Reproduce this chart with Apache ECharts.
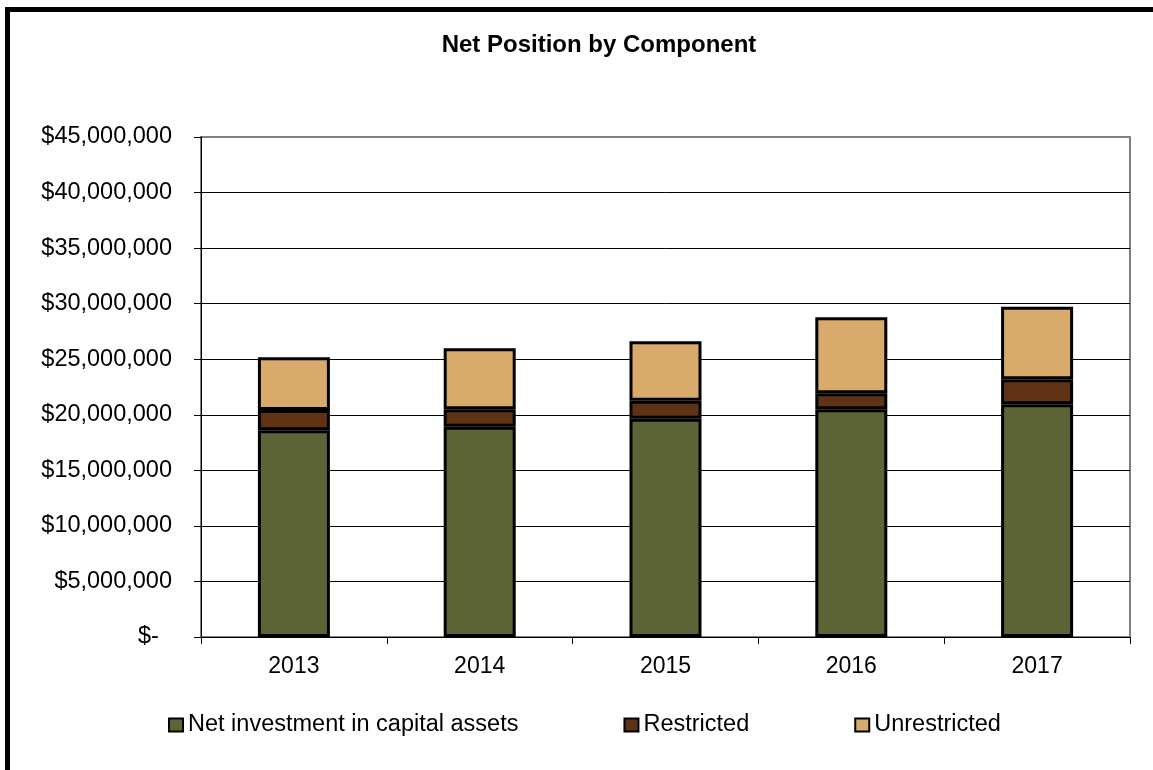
<!DOCTYPE html>
<html>
<head>
<meta charset="utf-8">
<style>
  html, body { margin: 0; padding: 0; background: #fff; overflow: hidden; }
  #wrap { position: relative; width: 1153px; height: 770px; overflow: hidden; }
  #chart { position: absolute; left: 0; top: 0; width: 1153px; height: 770px; }
  #frame {
    position: absolute; left: 5px; top: 7px; width: 1400px; height: 1000px;
    border: 5px solid #000; box-sizing: border-box; pointer-events: none;
  }
</style>
<script src="https://cdn.jsdelivr.net/npm/echarts@6/dist/echarts.min.js"></script>
</head>
<body>
<div id="wrap">
  <div id="chart"></div>
  <div id="frame"></div>
</div>
<script>
// Fiscal years shown on the category axis
const years = ['2013', '2014', '2015', '2016', '2017'];

// Net position components, in dollars
const netInvestment = [18600000, 18930000, 19650000, 20490000, 20940000];
const restricted    = [1830000, 1560000, 1620000, 1440000, 2250000];
const unrestricted  = [4740000, 5490000, 5340000, 6840000, 6540000];

const seriesNames = ['Net investment in capital assets', 'Restricted', 'Unrestricted'];
const seriesColors = ['#5C6336', '#5F3216', '#D8AA6C'];

const FONT = "'Liberation Sans', Arial, sans-serif";

function dollars(v) {
  if (v === 0) return '$-  ';
  return '$' + v.toLocaleString('en-US');
}

const chart = echarts.init(document.getElementById('chart'), null, { renderer: 'canvas' });

function barSeries(name, values, color, z) {
  return {
    name: name,
    type: 'bar',
    stack: 'total',
    barWidth: 72,
    z: z,
    data: values,
    itemStyle: { color: color, borderColor: '#000', borderWidth: 3 },
    emphasis: { disabled: true }
  };
}

chart.setOption({
  animation: false,
  backgroundColor: '#fff',
  title: {
    text: 'Net Position by Component',
    left: 594,
    top: 28,
    textAlign: 'center',
    textStyle: { fontFamily: FONT, fontSize: 24, fontWeight: 'bold', color: '#000' }
  },
  legend: {
    data: seriesNames,
    icon: 'rect',
    left: 163,
    top: 708,
    itemWidth: 14,
    itemHeight: 13,
    itemGap: 105,
    itemStyle: { borderColor: '#000', borderWidth: 2 },
    textStyle: { fontFamily: FONT, fontSize: 23.5, color: '#000' }
  },
  grid: {
    left: 201,
    right: 23,
    top: 137,
    bottom: 133,
    show: true,
    borderColor: '#808080',
    borderWidth: 2,
    containLabel: false
  },
  xAxis: {
    type: 'category',
    data: years,
    boundaryGap: true,
    axisLine: { lineStyle: { color: '#000', width: 1 } },
    axisTick: { show: true, length: 7, alignWithLabel: false, lineStyle: { color: '#000' } },
    axisLabel: { fontFamily: FONT, fontSize: 23, color: '#000', margin: 18 }
  },
  yAxis: {
    type: 'value',
    min: 0,
    max: 45000000,
    interval: 5000000,
    axisLine: { show: true, lineStyle: { color: '#000', width: 1 } },
    axisTick: { show: true, length: 7, lineStyle: { color: '#000' } },
    axisLabel: {
      fontFamily: FONT, fontSize: 23.5, color: '#000', margin: 29,
      formatter: dollars
    },
    splitLine: {
      show: true,
      lineStyle: {
        color: ['#000', '#000', '#000', '#000', '#000', '#000', '#000', '#000', '#000', '#808080'],
        width: 1
      }
    }
  },
  series: [
    barSeries(seriesNames[0], netInvestment, seriesColors[0], 3),
    barSeries(seriesNames[1], restricted, seriesColors[1], 4),
    barSeries(seriesNames[2], unrestricted, seriesColors[2], 5)
  ]
});
</script>
</body>
</html>
